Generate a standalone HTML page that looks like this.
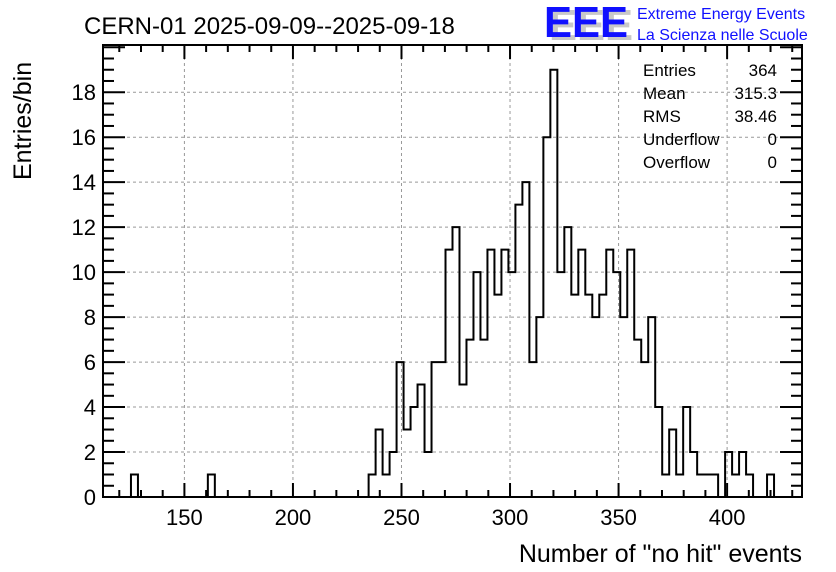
<!DOCTYPE html>
<html><head><meta charset="utf-8"><style>
html,body{margin:0;padding:0;background:#fff;}
svg{display:block;font-family:"Liberation Sans",Arial,sans-serif;}
</style></head><body>
<svg id="chart" width="836" height="572" viewBox="0 0 836 572" xmlns="http://www.w3.org/2000/svg">
<rect width="836" height="572" fill="#fff"/>
<text x="84" y="34" font-size="24" fill="#000">CERN-01 2025-09-09--2025-09-18</text>
<g>
<text x="549" y="40" font-size="44" font-weight="bold" fill="#c8c8c8" textLength="84" lengthAdjust="spacingAndGlyphs">EEE</text>
<text x="544" y="37" font-size="44" font-weight="bold" fill="#1010ff" textLength="84" lengthAdjust="spacingAndGlyphs">EEE</text>
<text x="637" y="19" font-size="16" fill="#1010ff">Extreme Energy Events</text>
<text x="637" y="40" font-size="16" fill="#1010ff">La Scienza nelle Scuole</text>
</g>
<g id="grid"></g>
<g id="hist"></g>
<g id="axes"></g>
<g font-size="17" fill="#000">
<text x="643" y="76">Entries</text><text x="777" y="76" text-anchor="end">364</text>
<text x="643" y="99">Mean</text><text x="777" y="99" text-anchor="end">315.3</text>
<text x="643" y="122">RMS</text><text x="777" y="122" text-anchor="end">38.46</text>
<text x="643" y="145">Underflow</text><text x="777" y="145" text-anchor="end">0</text>
<text x="643" y="168">Overflow</text><text x="777" y="168" text-anchor="end">0</text>
</g>
<text x="802" y="562" font-size="25" text-anchor="end">Number of "no hit" events</text>
<text transform="translate(31,180) rotate(-90)" font-size="25">Entries/bin</text>
</svg>
<script>
const binStart = 112.5;
const binWidth = 3.22;
const counts = [0,0,0,0,1,0,0,0,0,0,0,0,0,0,0,1,0,0,0,0,0,0,0,0,0,0,0,0,0,0,0,0,0,0,0,0,0,0,
1,3,1,2,6,3,4,5,2,6,6,
11,12,5,7,10,7,11,9,11,10,13,14,6,8,16,19,10,12,9,11,9,8,9,11,10,8,11,7,6,8,4,1,3,
1,4,2,1,1,1,0,2,1,2,1,0,0,1,0,0,0,0];
const xTicks = [150,200,250,300,350,400];
const yTicks = [0,2,4,6,8,10,12,14,16,18];
const L=103,R=802,T=45,B=497,XMIN=112.5,XMAX=434.5,YMAX=20.1;
const NS="http://www.w3.org/2000/svg";
const X=v=>L+(v-XMIN)/(XMAX-XMIN)*(R-L);
const Y=v=>B-v/YMAX*(B-T);
function mk(tag,attrs,parent){const e=document.createElementNS(NS,tag);for(const k in attrs)e.setAttribute(k,attrs[k]);parent.appendChild(e);return e;}
const grid=document.getElementById('grid'),hist=document.getElementById('hist'),axes=document.getElementById('axes');
xTicks.forEach(t=>{const g=mk('line',{x1:X(t),x2:X(t),y1:T,y2:B,stroke:'#999','stroke-dasharray':'3,3','stroke-width':1},grid);

});
yTicks.forEach(t=>{if(t===0)return;const g=mk('line',{x1:L,x2:R,y1:Y(t),y2:Y(t),stroke:'#999','stroke-dasharray':'3,3','stroke-width':1},grid);

});
let d='M'+X(binStart)+','+Y(0);
counts.forEach((c,i)=>{const x0=X(binStart+i*binWidth),x1=X(binStart+(i+1)*binWidth);d+=' L'+x0+','+Y(c)+' L'+x1+','+Y(c);});
d+=' L'+X(binStart+counts.length*binWidth)+','+Y(0);
const p=mk('path',{d:d,fill:'none',stroke:'#000','stroke-width':2},hist);


const fr=mk('rect',{x:L,y:T,width:R-L,height:B-T,fill:'none',stroke:'#000','stroke-width':2},axes);


for(let v=120;v<=430;v+=10){const maj=v%50===0,len=maj?14:7;
mk('line',{x1:X(v),x2:X(v),y1:B,y2:B-len,stroke:'#000','stroke-width':2},axes);
mk('line',{x1:X(v),x2:X(v),y1:T,y2:T+len,stroke:'#000','stroke-width':2},axes);}
for(let v=0;v<=20;v+=0.5){const maj=v%2===0,len=maj?22:11;
mk('line',{x1:L,x2:L+len,y1:Y(v),y2:Y(v),stroke:'#000','stroke-width':2},axes);
mk('line',{x1:R,x2:R-len,y1:Y(v),y2:Y(v),stroke:'#000','stroke-width':2},axes);}
xTicks.forEach(t=>{const e=mk('text',{x:X(t),y:B+28,'font-size':22,'text-anchor':'middle'},axes);e.textContent=t;

});
yTicks.forEach(t=>{const e=mk('text',{x:L-7,y:Y(t)+8,'font-size':22,'text-anchor':'end'},axes);e.textContent=t;

});
</script>
</body></html>
